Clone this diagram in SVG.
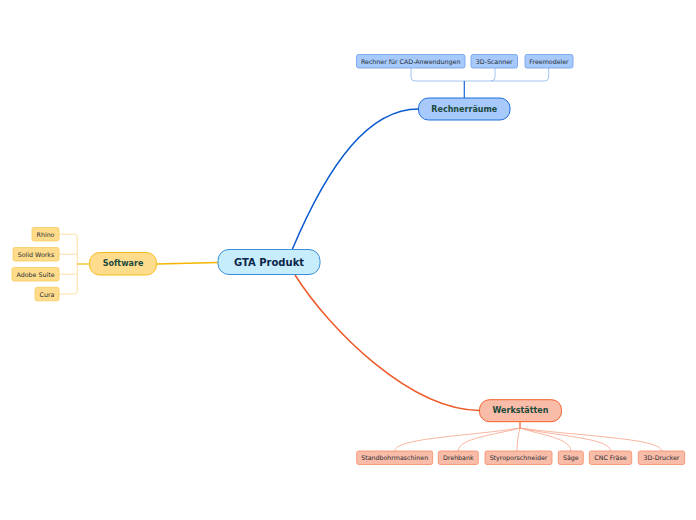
<svg xmlns="http://www.w3.org/2000/svg" width="696" height="520" viewBox="0 0 696 520">
<style>
  text { font-family: "DejaVu Sans", Verdana, sans-serif; text-anchor: middle; dominant-baseline: central; }
  .main { font-size: 10px; font-weight: bold; fill: #0c2748; }
  .topic { font-size: 8px; font-weight: bold; fill: #1b4a3c; }
  .sub { font-size: 6.3px; fill: #1e2a30; }
  .blue { fill: #a7c9fb; }
  .bsub { fill: #a7c9fb; stroke: #6a9ee8; stroke-width: 0.8; }
  .osub { fill: #f9bca8; stroke: #f38a66; stroke-width: 0.8; }
  .ysub { fill: #fedc8c; stroke: #f8cc5a; stroke-width: 0.8; }
  .conn { fill: none; }
</style>
<rect width="696" height="520" fill="#ffffff"/>
<g id="connectors" class="conn">
  <path d="M292,250 C330,160 370,109 418.5,109" stroke="#0a5bd0" stroke-width="1.5" fill="none"/>
  <path d="M295,275 C330,330 410,410 479.5,410.5" stroke="#f05a28" stroke-width="1.5" fill="none"/>
  <path d="M157,264 L218,262.5" stroke="#f5b400" stroke-width="1.5" fill="none"/>
  <!-- Rechnerräume children -->
  <path d="M411,68 V77 Q411,81 415,81 H544.7 Q548.7,81 548.7,77 V68 M495,68 V77 Q495,81 491,81" stroke="#8db5f0" stroke-width="0.8" fill="none"/>
  <path d="M464.3,81 V98" stroke="#1a66d6" stroke-width="1.2" fill="none"/>
  <!-- Software children -->
  <path d="M59,234.2 H74 Q77.3,234.2 77.3,237.5 V290.7 Q77.3,294 74,294 H59 M59,254.2 H77.3 M59,274.2 H77.3" stroke="#fdd88a" stroke-width="0.8" fill="none"/>
  <path d="M77.3,264 H89.5" stroke="#f5b800" stroke-width="1.2" fill="none"/>
  <!-- Werkstätten children -->
  <path d="M520,421.7 V429" stroke="#f05a28" stroke-width="1.2" fill="none"/>
  <g stroke="#f7a287" stroke-width="0.8" fill="none">
    <path d="M520,428 C470,436 395,438 394.7,451"/>
    <path d="M520,428 C495,435 458.3,438 458.3,451"/>
    <path d="M520,428 C518,436 517,442 517,451"/>
    <path d="M520,428 C541,435 570.8,438 570.8,451"/>
    <path d="M520,428 C556,436 610.5,438 610.5,451"/>
    <path d="M520,428 C576,436 661.5,438 661.5,451"/>
  </g>
</g>
<g id="node-central">
  <rect x="218" y="249.5" width="102" height="25" rx="11" fill="#c7ecfc" stroke="#3a8fd6" stroke-width="1"/>
  <text class="main" x="269" y="262">GTA Produkt</text>
</g>
<g id="node-rechnerraeume">
  <rect x="418.5" y="98" width="91.5" height="22" rx="10" class="blue" stroke="#1f6ddd" stroke-width="1"/>
  <text class="topic" x="464.3" y="109">Rechnerräume</text>
</g>
<g id="node-cad">
  <rect x="356.5" y="54.5" width="108.5" height="13.5" rx="2" class="bsub"/>
  <text class="sub" x="410.7" y="61.3">Rechner für CAD-Anwendungen</text>
</g>
<g id="node-scanner">
  <rect x="471" y="54.5" width="46.5" height="13.5" rx="2" class="bsub"/>
  <text class="sub" x="494.2" y="61.3">3D-Scanner</text>
</g>
<g id="node-freemodeler">
  <rect x="525" y="54.5" width="48" height="13.5" rx="2" class="bsub"/>
  <text class="sub" x="549" y="61.3">Freemodeler</text>
</g>
<g id="node-software">
  <rect x="89.5" y="252.5" width="67" height="22.5" rx="10" fill="#fedc8c" stroke="#f6bd1e" stroke-width="1"/>
  <text class="topic" x="123" y="263.8">Software</text>
</g>
<g id="node-rhino">
  <rect x="32" y="227.5" width="27" height="13.5" rx="2" class="ysub"/>
  <text class="sub" x="45.5" y="234.3">Rhino</text>
</g>
<g id="node-solidworks">
  <rect x="13" y="247.5" width="46" height="13.5" rx="2" class="ysub"/>
  <text class="sub" x="36" y="254.3">Solid Works</text>
</g>
<g id="node-adobe">
  <rect x="12" y="267.5" width="47" height="13.5" rx="2" class="ysub"/>
  <text class="sub" x="35.5" y="274.3">Adobe Suite</text>
</g>
<g id="node-cura">
  <rect x="35" y="287.3" width="24" height="13.5" rx="2" class="ysub"/>
  <text class="sub" x="47" y="294.1">Cura</text>
</g>
<g id="node-werkstaetten">
  <rect x="479.5" y="399.7" width="82" height="22" rx="10" fill="#f9bca8" stroke="#f0602e" stroke-width="1"/>
  <text class="topic" x="520.5" y="410.7">Werkstätten</text>
</g>
<g id="node-standbohr">
  <rect x="356.7" y="451" width="76" height="13.5" rx="2" class="osub"/>
  <text class="sub" x="394.7" y="457.8">Standbohrmaschinen</text>
</g>
<g id="node-drehbank">
  <rect x="438.3" y="451" width="40" height="13.5" rx="2" class="osub"/>
  <text class="sub" x="458.3" y="457.8">Drehbank</text>
</g>
<g id="node-styropor">
  <rect x="485" y="451" width="67" height="13.5" rx="2" class="osub"/>
  <text class="sub" x="518.5" y="457.8">Styroporschneider</text>
</g>
<g id="node-saege">
  <rect x="558.3" y="451" width="25" height="13.5" rx="2" class="osub"/>
  <text class="sub" x="570.8" y="457.8">Säge</text>
</g>
<g id="node-cnc">
  <rect x="589.3" y="451" width="42.4" height="13.5" rx="2" class="osub"/>
  <text class="sub" x="610.5" y="457.8">CNC Fräse</text>
</g>
<g id="node-3ddrucker">
  <rect x="638.3" y="451" width="46.4" height="13.5" rx="2" class="osub"/>
  <text class="sub" x="661.5" y="457.8">3D-Drucker</text>
</g>
</svg>
